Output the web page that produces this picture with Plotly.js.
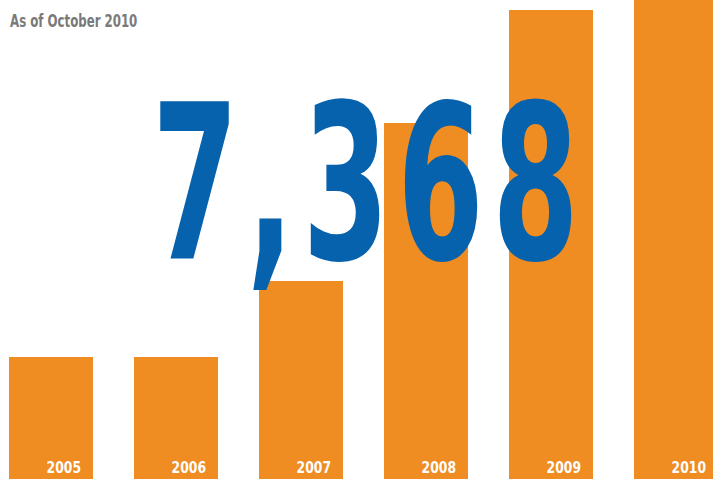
<!DOCTYPE html>
<html>
<head>
<meta charset="utf-8">
<script src="https://cdn.plot.ly/plotly-3.0.1.min.js"></script>
<style>
  html, body { margin: 0; padding: 0; background: #ffffff; }
  #chart { width: 713px; height: 481px; }
</style>
</head>
<body>
<div id="chart"></div>
<script>
// Data (relative bar heights)
const years = ['2005', '2006', '2007', '2008', '2009', '2010'];
const counts = [122, 122, 198, 356, 469, 560];
const totalLabel = '7,368';
const subtitle = 'As of October 2010';

const ORANGE = '#ef8c22';
const BLUE = '#0762ad';
const FONT = '"DejaVu Sans Condensed", "DejaVu Sans", sans-serif';

const trace = {
  type: 'bar',
  x: years,
  y: counts,
  width: 0.672,
  marker: { color: ORANGE, line: { width: 0 } },
  hoverinfo: 'skip'
};

// horizontal squeeze per annotation (condensed look), with anchor and letter spacing
const squeeze = [];

const annotations = [];
annotations.push({
  x: 0, y: 1, xref: 'paper', yref: 'paper',
  xanchor: 'left', yanchor: 'top', xshift: 8, yshift: -9,
  text: '<b>' + subtitle + '</b>',
  showarrow: false,
  font: { family: FONT, size: 17, color: '#7a7a7a' }
});
squeeze.push({ sx: 0.77, anchor: 'left', ls: 0 });

annotations.push({
  x: 0.513, y: 0.617, xref: 'paper', yref: 'paper',
  xanchor: 'center', yanchor: 'middle',
  text: '<b>' + totalLabel + '</b>',
  showarrow: false,
  font: { family: FONT, size: 216, color: BLUE }
});
squeeze.push({ sx: 0.64, anchor: 'center', ls: 13 });

years.forEach(function (yr, i) {
  annotations.push({
    x: i, y: 0, xref: 'x', yref: 'y',
    text: '<b>' + yr + '</b>',
    showarrow: false,
    xanchor: 'right', yanchor: 'bottom',
    xshift: 32, yshift: 0,
    font: { family: FONT, size: 16, color: '#ffffff' }
  });
  squeeze.push({ sx: 0.86, anchor: 'right', ls: 0 });
});

const layout = {
  width: 713,
  height: 481,
  margin: { l: 0, r: 0, t: 0, b: 0, pad: 0 },
  paper_bgcolor: '#ffffff',
  plot_bgcolor: '#ffffff',
  showlegend: false,
  xaxis: {
    type: 'category',
    range: [-0.408, 5.296],
    showgrid: false, zeroline: false, showticklabels: false, showline: false, ticks: ''
  },
  yaxis: {
    range: [-2, 479],
    showgrid: false, zeroline: false, showticklabels: false, showline: false, ticks: ''
  },
  annotations: annotations
};

function anchorX(bb, anchor) {
  if (anchor === 'left') return bb.x;
  if (anchor === 'right') return bb.x + bb.width;
  return bb.x + bb.width / 2;
}

Plotly.newPlot('chart', [trace], layout, { staticPlot: true, displayModeBar: false }).then(function (gd) {
  const groups = gd.querySelectorAll('g.annotation');
  groups.forEach(function (g) {
    const idx = parseInt(g.getAttribute('data-index'), 10);
    const s = squeeze[idx];
    if (!s) return;
    const t = g.querySelector('text.annotation-text');
    if (!t) return;
    const bb0 = t.getBBox();
    const a0 = anchorX(bb0, s.anchor);
    let a1 = a0;
    if (s.ls) {
      t.style.letterSpacing = s.ls + 'px';
      const bb1 = t.getBBox();
      // ignore the trailing spacing after the last glyph
      a1 = anchorX({ x: bb1.x, width: bb1.width - s.ls }, s.anchor);
    }
    const prev = t.getAttribute('transform') || '';
    t.setAttribute('transform', prev + ' translate(' + a0 + ',0) scale(' + s.sx + ',1) translate(' + (-a1) + ',0)');
  });
});
</script>
</body>
</html>
